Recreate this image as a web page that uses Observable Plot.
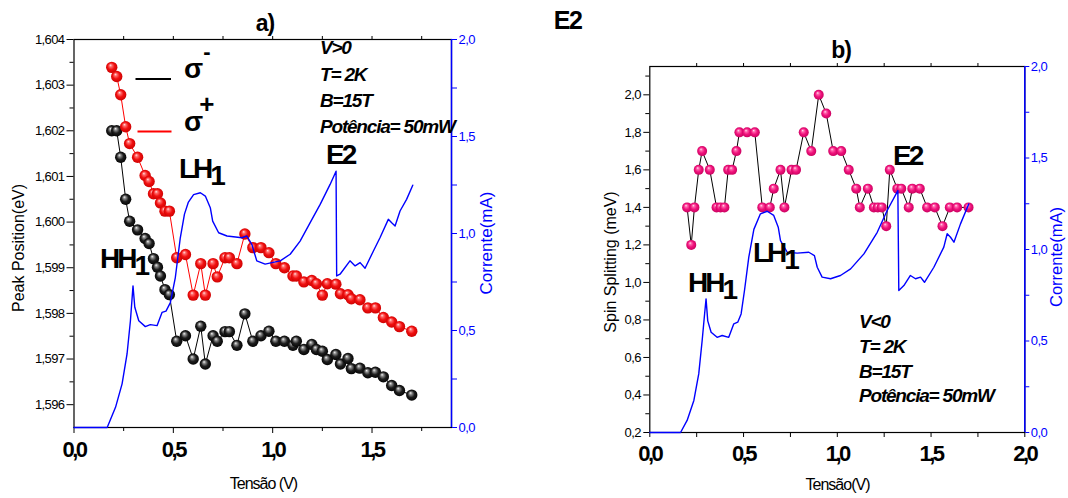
<!DOCTYPE html>
<html><head><meta charset="utf-8">
<script src="https://cdn.jsdelivr.net/npm/d3@7"></script>
<script src="https://cdn.jsdelivr.net/npm/@observablehq/plot@0.6"></script>
<style>
body{margin:0;background:#fff;}
#wrap{position:relative;width:1068px;height:498px;overflow:hidden;background:#fff;}
#wrap svg.layer{position:absolute;left:0;top:0;max-width:none;}
svg.xl g[aria-label="x-axis tick label"]{font-size:22px;font-weight:bold;letter-spacing:-2.5px;}
svg.layer g[aria-label="y-axis tick label"]{font-size:13px;letter-spacing:-0.6px;}
</style>
</head><body>
<svg width="0" height="0" style="position:absolute">
  <defs>
    <radialGradient id="ballBlack" cx="0.5" cy="0.5" r="0.55" fx="0.38" fy="0.3">
      <stop offset="0" stop-color="#f4f4f4"/><stop offset="0.22" stop-color="#8a8a8a"/>
      <stop offset="0.55" stop-color="#1e1e1e"/><stop offset="1" stop-color="#000"/>
    </radialGradient>
    <radialGradient id="ballRed" cx="0.5" cy="0.5" r="0.55" fx="0.38" fy="0.3">
      <stop offset="0" stop-color="#ffe6e6"/><stop offset="0.22" stop-color="#ff6a6a"/>
      <stop offset="0.55" stop-color="#f01010"/><stop offset="1" stop-color="#c80000"/>
    </radialGradient>
    <radialGradient id="ballPink" cx="0.5" cy="0.5" r="0.55" fx="0.38" fy="0.3">
      <stop offset="0" stop-color="#ffe6f2"/><stop offset="0.22" stop-color="#ff64ac"/>
      <stop offset="0.55" stop-color="#f0127c"/><stop offset="1" stop-color="#c4005c"/>
    </radialGradient>
  </defs>
</svg>
<div id="wrap"></div>
<script>
const W = 1068, H = 498;
const FONT = '"Liberation Sans", Arial, Helvetica, sans-serif';
const BLUE = "#0000ff";

// ---------- Panel a) data ----------
const aVolt = [0.19,0.215,0.235,0.26,0.28,0.32,0.358,0.378,0.40,0.42,0.435,0.458,0.48,0.517,0.561,0.6,0.638,0.661,0.7,0.721,0.76,0.782,0.82,0.86,0.9,0.941,0.981,1.016,1.059,1.102,1.119,1.157,1.197,1.22,1.25,1.275,1.318,1.341,1.379,1.396,1.439,1.479,1.517,1.557,1.599,1.638,1.7];
const aSigmaMinus = [1.602,1.602,1.60142,1.6005,1.60002,1.59983,1.59964,1.59953,1.5992,1.59901,1.59882,1.59852,1.59841,1.59739,1.59751,1.597,1.59772,1.59689,1.59751,1.59739,1.5976,1.5976,1.5973,1.59799,1.59739,1.59751,1.59761,1.59739,1.59739,1.5973,1.59739,1.59721,1.59732,1.59721,1.59717,1.59699,1.5971,1.59689,1.59701,1.59679,1.5968,1.5967,1.59671,1.59661,1.59642,1.59631,1.59621];
const aSigmaPlus = [1.60339,1.60319,1.60279,1.60209,1.60172,1.60142,1.60102,1.60089,1.60062,1.60062,1.60042,1.60024,1.60024,1.59922,1.59929,1.5984,1.59909,1.5984,1.59909,1.5988,1.59922,1.59922,1.59909,1.59974,1.59944,1.59944,1.59933,1.59909,1.599,1.59882,1.59882,1.59869,1.59872,1.59865,1.5984,1.59865,1.59864,1.59843,1.59841,1.59832,1.5983,1.59812,1.59812,1.59791,1.59781,1.59771,1.59761];
const aCurV = [0,0.167,0.209,0.242,0.267,0.284,0.297,0.306,0.326,0.359,0.384,0.418,0.443,0.463,0.485,0.51,0.535,0.556,0.575,0.602,0.636,0.661,0.686,0.698,0.728,0.77,0.845,0.87,0.895,0.92,0.962,0.996,1.038,1.088,1.138,1.188,1.239,1.289,1.319,1.322,1.339,1.389,1.415,1.44,1.465,1.507,1.54,1.582,1.599,1.616,1.641,1.674,1.705];
const aCurI = [0,0,0.104,0.225,0.379,0.55,0.73,0.62,0.55,0.52,0.53,0.525,0.593,0.60,0.644,0.773,0.978,1.10,1.16,1.2,1.21,1.193,1.133,1.064,1.004,0.987,0.978,0.987,0.944,0.859,0.842,0.85,0.859,0.893,0.961,1.055,1.15,1.253,1.321,0.781,0.79,0.859,0.833,0.85,0.821,0.91,0.978,1.073,1.055,1.039,1.116,1.176,1.249];

// ---------- Panel b) data ----------
const bVolt = [0.199,0.221,0.238,0.261,0.279,0.32,0.356,0.377,0.398,0.418,0.439,0.462,0.478,0.519,0.56,0.6,0.64,0.661,0.697,0.718,0.756,0.78,0.821,0.861,0.901,0.941,0.978,1.021,1.061,1.101,1.12,1.163,1.195,1.216,1.237,1.261,1.28,1.32,1.341,1.381,1.4,1.44,1.479,1.52,1.561,1.6,1.639,1.7];
const bSplit = [1.4,1.2,1.4,1.6,1.7,1.6,1.4,1.4,1.4,1.6,1.6,1.7,1.8,1.8,1.8,1.4,1.4,1.5,1.6,1.4,1.6,1.6,1.8,1.7,2.0,1.9,1.7,1.7,1.6,1.5,1.4,1.5,1.4,1.4,1.4,1.3,1.6,1.5,1.5,1.4,1.5,1.5,1.4,1.4,1.3,1.4,1.4,1.4];
const bCurV = [0,0.164,0.199,0.235,0.261,0.279,0.292,0.3,0.309,0.327,0.359,0.386,0.421,0.448,0.469,0.487,0.505,0.528,0.555,0.59,0.626,0.661,0.685,0.697,0.733,0.786,0.848,0.878,0.893,0.919,0.964,1.017,1.071,1.142,1.213,1.266,1.323,1.328,1.355,1.39,1.417,1.444,1.465,1.515,1.568,1.586,1.604,1.622,1.657,1.701];
const bCurI = [0,0,0.066,0.175,0.32,0.50,0.645,0.73,0.61,0.548,0.52,0.53,0.52,0.594,0.603,0.648,0.776,0.958,1.11,1.195,1.209,1.186,1.122,1.049,0.985,0.98,0.985,0.967,0.903,0.849,0.84,0.858,0.894,0.976,1.094,1.213,1.322,0.776,0.803,0.858,0.84,0.849,0.821,0.903,1.013,1.086,1.067,1.04,1.14,1.249];

// ---------- ticks ----------
const xMajorA = [0,0.5,1,1.5];
const xMajorB = [0,0.5,1,1.5,2];
const xMinor = [0.25,0.75,1.25,1.75];
const xTop = [0.25,0.5,0.75,1,1.25,1.5,1.75];
const aLeftMajor = [1.596,1.597,1.598,1.599,1.6,1.601,1.602,1.603,1.604];
const aLeftMinor = [1.5965,1.5975,1.5985,1.5995,1.6005,1.6015,1.6025,1.6035];
const bLeftMajor = [0.2,0.4,0.6,0.8,1.0,1.2,1.4,1.6,1.8,2.0];
const bLeftMinor = [0.3,0.5,0.7,0.9,1.1,1.3,1.5,1.7,1.9,2.1];
const curMajor = [0,0.5,1,1.5,2];
const curMinor = [0.25,0.75,1.25,1.75];

const comma = n => d => d.toFixed(n).replace(".", ",");
const blank = () => "";

const aBlack = aVolt.map((v,i)=>({v, e:aSigmaMinus[i]}));
const aRed = aVolt.map((v,i)=>({v, e:aSigmaPlus[i]}));
const aCur = aCurV.map((v,i)=>({v, i:aCurI[i]}));
const bPts = bVolt.map((v,i)=>({v, s:bSplit[i]}));
const bCur = bCurV.map((v,i)=>({v, i:bCurI[i]}));

const FA = {l:73.5, r:451, t:39, b:427};
const FB = {l:649.3, r:1024.3, t:66, b:432};

function layer(cls, f, x, y, marks) {
  const svg = Plot.plot({
    className: cls,
    width: W, height: H,
    marginLeft: f.l, marginRight: W - f.r, marginTop: f.t, marginBottom: H - f.b,
    x, y,
    style: {background: "transparent", overflow: "visible", fontFamily: FONT},
    marks
  });
  svg.classList.add("layer");
  return svg;
}

const aLeft = layer("xl", FA, {domain:[0,1.9]}, {domain:[1.5955,1.604]}, [
  Plot.axisX({ticks: xMajorA, tickFormat: comma(1), tickSize: 6, tickPadding: 8, label: null}),
  Plot.axisX({ticks: xMinor, tickFormat: blank, tickSize: 4, label: null}),
  Plot.axisX({anchor: "top", ticks: xTop, tickFormat: blank, tickSize: 4, label: null}),
  Plot.axisY({ticks: aLeftMajor, tickFormat: comma(3), tickSize: 7, tickPadding: 2.5, label: null}),
  Plot.axisY({ticks: aLeftMinor, tickFormat: blank, tickSize: 4, label: null}),
  Plot.frame({stroke: "black", strokeWidth: 1.2}),
  Plot.line(aBlack, {x: "v", y: "e", stroke: "black", strokeWidth: 1}),
  Plot.line(aRed, {x: "v", y: "e", stroke: "#ff0000", strokeWidth: 1}),
  Plot.dot(aBlack, {x: "v", y: "e", r: 5.7, fill: "url(#ballBlack)"}),
  Plot.dot(aRed, {x: "v", y: "e", r: 5.7, fill: "url(#ballRed)"})
]);

const aRight = layer("ar", FA, {domain:[0,1.9], axis: null}, {domain:[0,2]}, [
  Plot.axisY({anchor: "right", ticks: curMajor, tickFormat: comma(1), tickSize: 5, tickPadding: 2, color: BLUE, label: null}),
  Plot.axisY({anchor: "right", ticks: curMinor, tickFormat: blank, tickSize: 5, color: BLUE, label: null}),
  Plot.ruleX([1.9], {stroke: BLUE, strokeWidth: 1.5}),
  Plot.line(aCur, {x: "v", y: "i", stroke: BLUE, strokeWidth: 1.4})
]);

const bLeft = layer("xl", FB, {domain:[0,2]}, {domain:[0.2,2.151]}, [
  Plot.axisX({ticks: xMajorB, tickFormat: comma(1), tickSize: 5, tickPadding: 8, label: null}),
  Plot.axisX({ticks: xMinor, tickFormat: blank, tickSize: 5, label: null}),
  Plot.axisX({anchor: "top", ticks: xTop, tickFormat: blank, tickSize: 4, label: null}),
  Plot.axisY({ticks: bLeftMajor, tickFormat: comma(1), tickSize: 6, tickPadding: 3, label: null}),
  Plot.axisY({ticks: bLeftMinor, tickFormat: blank, tickSize: 4, label: null}),
  Plot.frame({stroke: "black", strokeWidth: 1.2}),
  Plot.line(bPts, {x: "v", y: "s", stroke: "black", strokeWidth: 1}),
  Plot.dot(bPts, {x: "v", y: "s", r: 5, fill: "url(#ballPink)"})
]);

const bRight = layer("br", FB, {domain:[0,2], axis: null}, {domain:[0,2]}, [
  Plot.axisY({anchor: "right", ticks: curMajor, tickFormat: comma(1), tickSize: 4, tickPadding: 2, color: BLUE, label: null}),
  Plot.axisY({anchor: "right", ticks: curMinor, tickFormat: blank, tickSize: 4, color: BLUE, label: null}),
  Plot.ruleX([2], {stroke: BLUE, strokeWidth: 1.5}),
  Plot.line(bCur, {x: "v", y: "i", stroke: BLUE, strokeWidth: 1.4})
]);

const wrap = document.getElementById("wrap");
[aLeft, aRight, bLeft, bRight].forEach(s => wrap.appendChild(s));

// ---------- text overlay ----------
const ov = d3.create("svg").attr("class", "layer").attr("width", W).attr("height", H)
  .style("font-family", FONT).style("overflow", "visible");
function t(x, y, s, o = {}) {
  const e = ov.append("text").attr("x", x).attr("y", y).text(s)
    .attr("font-size", o.size || 16)
    .attr("font-weight", o.weight || "normal")
    .attr("font-style", o.style || "normal")
    .attr("text-anchor", o.anchor || "start")
    .attr("fill", o.fill || "#000");
  if (o.ls) e.style("letter-spacing", o.ls + "px");
  if (o.rot) e.attr("x", 0).attr("y", 0).attr("transform", `translate(${x},${y}) rotate(-90)`);
  return e;
}
// text with a shifted second part (sub/superscript) in the same text element
function ts(x, y, main, extra, dx, dy, o, extraSize) {
  const e = t(x, y, main, o);
  e.append("tspan").attr("dx", dx).attr("dy", dy).attr("font-size", extraSize || o.size).text(extra);
  return e;
}
// titles
t(265, 31, "a)", {size: 23, weight: "bold", anchor: "middle", ls: -1});
t(567.5, 29, "E2", {size: 25, weight: "bold", anchor: "middle", ls: -1.5});
t(841, 58, "b)", {size: 23, weight: "bold", anchor: "middle", ls: -1});
// legend
ov.append("line").attr("x1", 135.5).attr("x2", 171).attr("y1", 79).attr("y2", 79).attr("stroke", "#000").attr("stroke-width", 2);
ov.append("line").attr("x1", 137.5).attr("x2", 171.5).attr("y1", 131.5).attr("y2", 131.5).attr("stroke", "#ff0000").attr("stroke-width", 2);
ts(184, 78, "σ", "-", 0, -19, {size: 28, weight: "bold"}, 22);
ts(184, 131, "σ", "+", -4, -18, {size: 28, weight: "bold"}, 26);
// condition blocks
const condA = ["V>0", "T= 2K", "B=15T", "Potência= 50mW"];
const condB = ["V<0", "T= 2K", "B=15T", "Potência= 50mW"];
const condStyle = {size: 19, weight: "bold", style: "italic", ls: -1.2};
[54, 80.5, 106.5, 132.5].forEach((y, i) => t(320, y, condA[i], condStyle));
[328, 353, 378, 402].forEach((y, i) => t(859, y, condB[i], condStyle));
// peak labels
const big = {size: 28, weight: "bold", ls: -3};
ts(179, 178, "LH", "1", 0, 7, big);
ts(100, 268, "HH", "1", 0, 7, big);
t(326, 164, "E2", big);
t(893, 165, "E2", big);
ts(753, 262, "LH", "1", 0, 7, big);
ts(688, 292, "HH", "1", 0, 7, big);
// axis titles
t(24, 248, "Peak Position(eV)", {size: 16, anchor: "middle", rot: true});
t(492, 243, "Corrente(mA)", {size: 17, anchor: "middle", rot: true, fill: BLUE});
t(616, 262, "Spin Splitting (meV)", {size: 16, anchor: "middle", rot: true});
t(1062, 257, "Corrente(mA)", {size: 16.5, anchor: "middle", rot: true, fill: BLUE});
t(263.5, 489, "Tensão (V)", {size: 16, anchor: "middle", ls: -1});
t(837.5, 490, "Tensão(V)", {size: 16, anchor: "middle", ls: -1});
wrap.appendChild(ov.node());
</script>
</body></html>
